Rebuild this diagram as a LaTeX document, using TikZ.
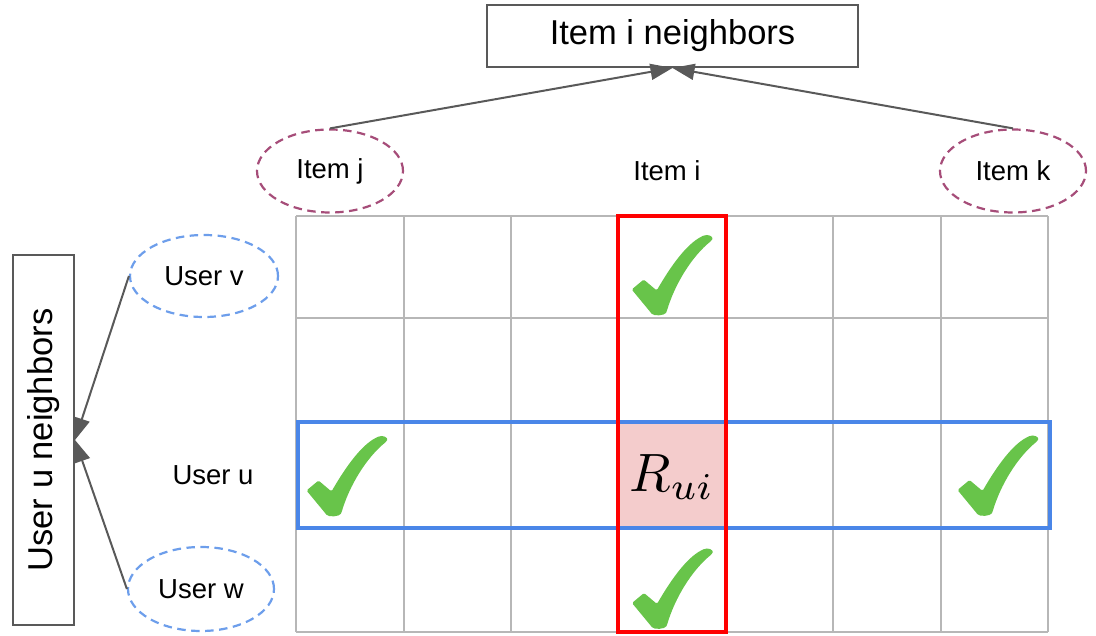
\documentclass[tikz,border=0pt]{standalone}
\usepackage{fontspec}
\setmainfont{Liberation Sans}
\usetikzlibrary{shapes.geometric,arrows.meta}

\definecolor{gridgray}{HTML}{B7B7B7}
\definecolor{linegray}{HTML}{595959}
\definecolor{itemrose}{HTML}{A64D79}
\definecolor{userblue}{HTML}{6D9EEB}
\definecolor{rowblue}{HTML}{4A86E8}
\definecolor{colred}{HTML}{FF0000}
\definecolor{cellpink}{HTML}{F4CCCC}
\definecolor{checkgreen}{RGB}{104,196,74}

\begin{document}
\begin{tikzpicture}[x=1pt,y=-1pt,
  labelbox/.style={draw=linegray,line width=2pt,fill=white,inner sep=0pt,
    font=\fontsize{34.5}{40}\selectfont},
  oval/.style={ellipse,dashed,dash pattern=on 8.5pt off 5.5pt,line width=2.2pt,
    inner sep=0pt,font=\fontsize{27.5}{32}\selectfont},
  itemoval/.style={oval,draw=itemrose,minimum width=146pt,minimum height=83pt},
  useroval/.style={oval,draw=userblue,minimum width=146pt,minimum height=83pt},
  plainlabel/.style={inner sep=0pt,font=\fontsize{27.5}{32}\selectfont},
  link/.style={draw=linegray,line width=2pt,-{Triangle[length=22pt,width=16pt]}},
  gridline/.style={draw=gridgray,line width=2pt},
  greencheck/.pic={
    \fill[checkgreen,rounded corners=1.5pt] (-40,15) -- (-28,5) -- (-15,16)
      .. controls (0,-10) and (15,-30) .. (30,-38)
      .. controls (36,-41) and (42,-38) .. (40,-34)
      .. controls (20,-18) and (3,10) .. (-5,37)
      .. controls (-7,41) and (-18,42) .. (-21,38) -- cycle;
  }]
\useasboundingbox (0,0) rectangle (1096,636);

% highlighted rating cell
\fill[cellpink] (618,423) rectangle (726,528);

% rating matrix grid
\foreach \gx in {296,403.5,511,618,726,833,941,1048}
  \draw[gridline] (\gx,216.5) -- (\gx,632);
\foreach \gy in {216.5,318,423,528,632}
  \draw[gridline] (296,\gy) -- (1048,\gy);

% known ratings
\pic at (671.7,274.5) {greencheck};
\pic at (346.5,475.5) {greencheck};
\pic at (997.5,475) {greencheck};
\pic at (672,588) {greencheck};

% user row and item column
\draw[rowblue,line width=4pt] (297.5,422.5) rectangle (1050,528);
\draw[colred,line width=4pt] (618,216.5) rectangle (726,632);

\node[inner sep=0pt,scale=5.4] (rui) at (672,477) {$R_{ui}$};

% item labels
\node[itemoval] (itemj) at (330,171) {Item j};
\node[itemoval] (itemk) at (1013,171) {Item k};
\node[plainlabel] (itemi) at (667,171) {Item i};

% user labels
\node[useroval,minimum width=148pt,minimum height=82pt] (userv) at (204,276) {User v};
\node[useroval,minimum width=146pt,minimum height=84pt] (userw) at (201,589) {User w};
\node[plainlabel] (useru) at (213,475) {User u};

% neighbourhood boxes
\node[labelbox,minimum width=371pt,minimum height=62pt] (itemnb) at (672.5,36) {Item i neighbors};
\node[labelbox,rotate=90,minimum width=370pt,minimum height=61pt] (usernb) at (43.5,440) {User u neighbors};

% connectors
\draw[link] (itemj.north) -- (itemnb.south);
\draw[link] (itemk.north) -- (itemnb.south);
\draw[link] (userv.west) -- (usernb.south);
\draw[link] (userw.west) -- (usernb.south);
\end{tikzpicture}
\end{document}
